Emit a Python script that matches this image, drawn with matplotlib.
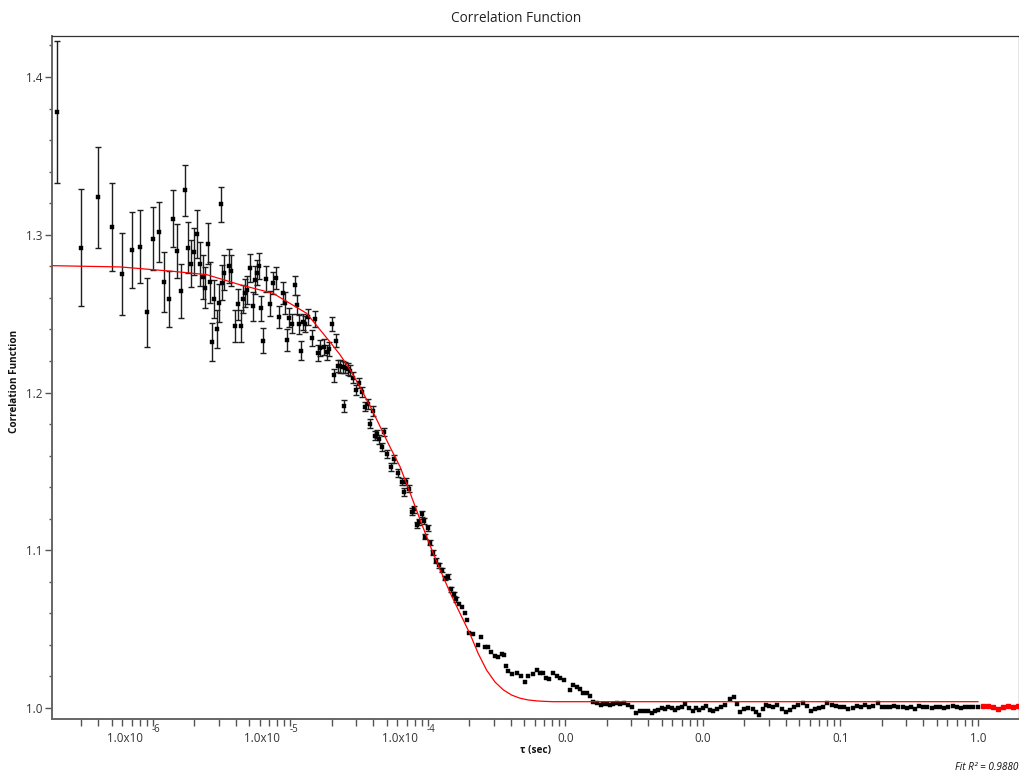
import matplotlib
matplotlib.use('Agg')
import matplotlib.pyplot as plt
from matplotlib.ticker import MultipleLocator, NullFormatter, FixedLocator

# ---------------- data ----------------
tau = [
    2.0e-7, 3.0e-7, 4.0e-7, 5.0e-7, 6.0e-7, 7.0e-7, 8.0e-7, 9.0e-7, 1.0e-6, 1.1e-6,
    1.2e-6, 1.3e-6, 1.4e-6, 1.5e-6, 1.6e-6, 1.7e-6, 1.8e-6, 1.9e-6, 2.0e-6, 2.1e-6,
    2.2e-6, 2.3e-6, 2.4e-6, 2.5e-6, 2.6e-6, 2.7e-6, 2.8e-6, 2.9e-6, 3.0e-6, 3.1e-6,
    3.2e-6, 3.3e-6,
    3.57e-6, 3.71e-6, 3.95e-6, 4.17e-6, 4.37e-6, 4.51e-6, 4.69e-6, 4.85e-6, 5.08e-6, 5.31e-6,
    5.55e-6, 5.74e-6, 5.90e-6, 6.10e-6, 6.31e-6, 6.67e-6, 7.09e-6, 7.50e-6, 7.84e-6, 8.25e-6,
    8.78e-6, 9.12e-6, 9.48e-6, 9.80e-6,
    1.03e-5, 1.07e-5, 1.11e-5, 1.15e-5, 1.19e-5, 1.24e-5, 1.27e-5, 1.35e-5, 1.43e-5, 1.50e-5,
    1.58e-5, 1.64e-5, 1.74e-5, 1.83e-5, 1.91e-5, 1.99e-5, 2.06e-5, 2.14e-5, 2.22e-5, 2.31e-5,
    2.41e-5, 2.46e-5, 2.51e-5, 2.62e-5, 2.73e-5, 2.85e-5, 3.01e-5, 3.15e-5, 3.30e-5, 3.48e-5,
    3.64e-5, 3.79e-5, 4.00e-5, 4.14e-5, 4.28e-5, 4.42e-5, 4.61e-5, 4.81e-5, 5.01e-5, 5.38e-5,
    5.69e-5, 6.08e-5, 6.44e-5, 6.72e-5, 6.92e-5, 7.31e-5, 7.61e-5, 7.91e-5, 8.32e-5, 8.60e-5,
    9.00e-5, 9.35e-5, 9.59e-5, 9.92e-5,
    1.03e-4, 1.08e-4, 1.15e-4, 1.20e-4, 1.26e-4, 1.33e-4, 1.40e-4, 1.46e-4, 1.55e-4, 1.61e-4,
    1.68e-4, 1.77e-4, 1.86e-4, 1.91e-4, 2.00e-4, 2.11e-4, 2.30e-4, 2.43e-4, 2.60e-4, 2.72e-4,
    2.87e-4, 3.07e-4, 3.25e-4, 3.44e-4, 3.57e-4, 3.69e-4, 3.84e-4, 4.06e-4, 4.42e-4, 4.75e-4,
    5.08e-4, 5.36e-4, 5.83e-4, 6.17e-4, 6.53e-4, 6.83e-4, 7.21e-4, 7.62e-4, 8.07e-4, 8.63e-4,
    9.12e-4, 9.75e-4,
    1.07e-3, 1.13e-3, 1.21e-3, 1.28e-3, 1.35e-3, 1.43e-3, 1.51e-3, 1.59e-3, 1.70e-3, 1.80e-3,
    1.88e-3, 1.99e-3, 2.11e-3, 2.23e-3, 2.36e-3, 2.49e-3, 2.66e-3, 2.86e-3, 3.03e-3, 3.26e-3,
    3.48e-3, 3.72e-3, 4.00e-3, 4.24e-3, 4.48e-3, 4.73e-3, 5.01e-3, 5.29e-3, 5.59e-3, 5.92e-3,
    6.26e-3, 6.61e-3, 7.00e-3, 7.44e-3, 7.88e-3, 8.42e-3, 8.89e-3, 9.40e-3,
    9.95e-3, 1.05e-2, 1.12e-2, 1.19e-2, 1.26e-2, 1.35e-2, 1.45e-2, 1.57e-2, 1.68e-2, 1.76e-2,
    1.86e-2, 1.99e-2, 2.14e-2, 2.30e-2, 2.43e-2, 2.57e-2, 2.72e-2, 2.87e-2, 3.04e-2, 3.25e-2,
    3.47e-2, 3.74e-2, 4.02e-2, 4.29e-2, 4.59e-2, 4.93e-2, 5.31e-2, 5.68e-2, 6.07e-2, 6.53e-2,
    7.01e-2, 7.50e-2, 8.02e-2, 8.63e-2, 9.28e-2, 9.92e-2,
    0.106, 0.114, 0.123, 0.131, 0.140, 0.151, 0.162, 0.173, 0.188, 0.199,
    0.214, 0.229, 0.245, 0.263, 0.283, 0.303, 0.324, 0.348, 0.374, 0.400,
    0.428, 0.461, 0.495, 0.529, 0.566, 0.608, 0.655, 0.700, 0.749, 0.804,
    0.864, 0.924, 1.00,
]

g = [
    1.3778, 1.2918, 1.3237, 1.3051, 1.2751, 1.2905, 1.2924, 1.2508, 1.2975, 1.3019,
    1.2700, 1.2593, 1.3102, 1.2899, 1.2643, 1.3282, 1.2918, 1.2816, 1.2893, 1.3005,
    1.2816, 1.2732, 1.2664, 1.2943, 1.2700, 1.2322, 1.2593, 1.2404, 1.2569, 1.3193,
    1.2696, 1.2759, 1.2802, 1.2772, 1.2422, 1.2559, 1.2422, 1.2591, 1.2629, 1.2650,
    1.2789, 1.2546, 1.2713, 1.2759, 1.2802, 1.2534, 1.2328, 1.2720, 1.2563, 1.2692,
    1.2724, 1.2481, 1.2633, 1.2567, 1.2335, 1.2474, 1.2436, 1.2680, 1.2557, 1.2432,
    1.2265, 1.2447, 1.2434, 1.2481, 1.2347, 1.2464, 1.2248, 1.2280, 1.2290, 1.2254,
    1.2276, 1.2432, 1.2109, 1.2328, 1.2168, 1.2165, 1.2164, 1.1916, 1.2158, 1.2149,
    1.2139, 1.2095, 1.2016, 1.2058, 1.2005, 1.1910, 1.1927, 1.1803, 1.1883, 1.1726,
    1.1737, 1.1703, 1.1655, 1.1752, 1.1610, 1.1530, 1.1578, 1.1488, 1.1435, 1.1369,
    1.1435, 1.1391, 1.1244, 1.1260, 1.1160, 1.1179, 1.1229, 1.1187, 1.1087, 1.1139,
    1.1048, 1.0984, 1.0934, 1.0906, 1.0875, 1.0824, 1.0832, 1.0752, 1.0721, 1.0688,
    1.0661, 1.0638, 1.0600, 1.0558, 1.0477, 1.0469, 1.0399, 1.0448, 1.0389, 1.0385,
    1.0357, 1.0330, 1.0325, 1.0342, 1.0336, 1.0268, 1.0236, 1.0216, 1.0224, 1.0205,
    1.0167, 1.0203, 1.0216, 1.0241, 1.0220, 1.0224, 1.0188, 1.0182, 1.0220, 1.0203,
    1.0188, 1.0177, 1.0114, 1.0146, 1.0135, 1.0119, 1.0097, 1.0093, 1.0076, 1.0040,
    1.0034, 1.0019, 1.0025, 1.0025, 1.0019, 1.0025, 1.0030, 1.0025, 1.0034, 1.0019,
    1.0004, 0.9966, 0.9983, 0.9983, 0.9983, 0.9966, 0.9983, 0.9987, 0.9998, 0.9992,
    1.0004, 0.9998, 0.9987, 0.9998, 1.0006, 1.0027, 0.9998, 0.9981, 0.9998, 0.9985,
    1.0001, 1.0013, 0.9987, 0.9979, 0.9994, 1.0008, 1.0019, 1.0055, 1.0068, 1.0025,
    0.9977, 0.9992, 0.9998, 0.9992, 0.9977, 0.9956, 0.9992, 1.0019, 1.0013, 1.0004,
    1.0019, 0.9992, 0.9977, 0.9987, 1.0004, 1.0019, 1.0030, 1.0013, 0.9983, 0.9992,
    0.9998, 1.0004, 1.0030, 1.0019, 1.0013, 1.0004, 1.0008, 0.9992, 0.9998, 1.0013,
    1.0004, 1.0019, 1.0008, 1.0013, 1.0030, 1.0008, 1.0004, 1.0008, 1.0013, 1.0008,
    1.0004, 0.9998, 1.0008, 0.9992, 1.0013, 1.0004, 1.0008, 0.9998, 1.0008, 1.0004,
    0.9998, 1.0008, 1.0013, 1.0004, 0.9998, 1.0008, 1.0004, 1.0008, 1.0008,
]

# error bars for the early channels (later ones are hidden by the markers)
g_err = [
    0.045, 0.037, 0.032, 0.028, 0.026, 0.024, 0.023, 0.022, 0.020, 0.019,
    0.019, 0.018, 0.018, 0.017, 0.017, 0.016, 0.016, 0.015, 0.015, 0.015,
    0.014, 0.014, 0.013, 0.013, 0.013, 0.012, 0.012, 0.012, 0.012, 0.011,
    0.011, 0.011, 0.011, 0.010, 0.010, 0.010, 0.010, 0.009, 0.009, 0.009,
    0.009, 0.009, 0.009, 0.008, 0.008, 0.008, 0.008, 0.008, 0.008, 0.007,
    0.007, 0.007, 0.007, 0.007, 0.007, 0.006, 0.006, 0.006, 0.006, 0.006,
    0.006, 0.005, 0.005, 0.005, 0.005, 0.005, 0.005, 0.005, 0.005, 0.005,
    0.0045, 0.0044, 0.0042, 0.0040, 0.0040, 0.0040, 0.0038, 0.0038, 0.0036, 0.0036,
    0.0035, 0.0034, 0.0033, 0.0032, 0.0031, 0.0030, 0.0030, 0.0030, 0.0029, 0.0028,
    0.0027, 0.0027, 0.0026, 0.0026, 0.0025, 0.0025, 0.0024, 0.0024, 0.0023, 0.0023,
    0.0022, 0.0022, 0.0021, 0.0021, 0.0020, 0.0020, 0.0019, 0.0019, 0.0018, 0.0018,
    0.0017, 0.0017, 0.0016, 0.0016, 0.0015, 0.0015, 0.0015, 0.0014, 0.0014, 0.0014,
]

# fitted curve
fit_tau = [1.84e-7, 5.76e-7, 1.40e-6, 2.46e-6, 4.29e-6, 7.46e-6, 1.31e-5, 1.94e-5,
           2.29e-5, 2.71e-5, 3.20e-5, 3.79e-5, 4.48e-5, 5.29e-5, 6.26e-5, 7.40e-5,
           8.75e-5, 1.03e-4, 1.22e-4, 1.45e-4, 1.71e-4, 2.02e-4, 2.32e-4, 2.67e-4,
           3.07e-4, 3.53e-4, 4.06e-4, 4.67e-4, 5.36e-4, 6.17e-4, 7.10e-4, 8.15e-4,
           1.33e-2, 1.0]
fit_g = [1.2804, 1.2796, 1.2768, 1.2747, 1.2683, 1.2629, 1.2502, 1.2320,
         1.2240, 1.2145, 1.2035, 1.1915, 1.1785, 1.1655, 1.1530, 1.1365,
         1.1195, 1.1035, 1.0880, 1.0730, 1.0600, 1.0470, 1.0345, 1.0240,
         1.0165, 1.0115, 1.0082, 1.0062, 1.0051, 1.0045, 1.0042, 1.0040,
         1.0040, 1.0040]

# channels beyond the fit range (drawn in red)
tail_tau = [1.09, 1.19, 1.29, 1.40, 1.52, 1.66, 1.80, 1.95]
tail_g = [1.0013, 1.0010, 1.0008, 0.9994, 1.0004, 1.0010, 1.0006, 1.0010]

xtick_vals = [1e-6, 1e-5, 1e-4, 1e-3, 1e-2, 1e-1, 1.0]
xtick_main = ["1.0x10", "1.0x10", "1.0x10", "0.0", "0.0", "0.1", "1.0"]
xtick_sup = ["-6", "-5", "-4", "", "", "", ""]
ytick_vals = [1.0, 1.1, 1.2, 1.3, 1.4]
ytick_labels = ["1.0", "1.1", "1.2", "1.3", "1.4"]
fit_r2 = "0.9880"

# ---------------- figure ----------------
FONT = ['Open Sans', 'DejaVu Sans']
plt.rcParams['font.family'] = FONT

W, H = 1020, 777
fig = plt.figure(figsize=(W / 100, H / 100), dpi=100)
fig.patch.set_facecolor('white')
ax = fig.add_axes([52 / W, 1 - 719 / H, (1019 - 52) / W, (719 - 36) / H])
ax.set_xscale('log')
ax.set_xlim(1.843e-7, 1.988)
ax.set_ylim(0.99303, 1.42599)

n_err = len(g_err)
ax.errorbar(tau[:n_err], g[:n_err], yerr=g_err, fmt='none', ecolor='#1e1e1e',
            elinewidth=1.0, capsize=2.2, capthick=1.0, zorder=2)
ax.plot(tau, g, linestyle='none', marker='s', ms=3.5, mfc='black', mec='black',
        mew=0.3, zorder=3)
ax.plot(fit_tau, fit_g, color='#ff0000', lw=0.9, zorder=4)
ax.plot(tail_tau, tail_g, color='#ff0000', lw=1.6, marker='s', ms=2.4,
        mfc='#ff0000', mec='#ff0000', zorder=4, clip_on=False)

# spines
for side in ['left', 'bottom']:
    ax.spines[side].set_color('#666666')
    ax.spines[side].set_linewidth(1.4)
ax.spines['top'].set_color('#333333')
ax.spines['top'].set_linewidth(0.9)
ax.spines['right'].set_color('#333333')
ax.spines['right'].set_linewidth(0.9)

# y ticks
ax.yaxis.set_major_locator(FixedLocator(ytick_vals))
ax.set_yticklabels(ytick_labels)
ax.yaxis.set_minor_locator(MultipleLocator(0.02))
ax.tick_params(axis='y', which='major', direction='out', length=5, width=1.0,
               color='#555555', labelsize=8.4, labelcolor='#333333', pad=2)
ax.tick_params(axis='y', which='minor', direction='out', length=2.5, width=1.0,
               color='#555555')

# x ticks (all the same length); minor ticks at 2..9 of each decade,
# starting at 3e-7 as in the reference
minor_x = [m * 10.0 ** e for e in range(-7, 1) for m in range(2, 10)
           if m * 10.0 ** e > 2.5e-7]
ax.xaxis.set_major_locator(FixedLocator(xtick_vals))
ax.xaxis.set_minor_locator(FixedLocator(minor_x))
ax.xaxis.set_major_formatter(NullFormatter())
ax.xaxis.set_minor_formatter(NullFormatter())
ax.tick_params(axis='x', which='both', direction='out', length=5, width=1.0,
               color='#555555', labelbottom=False)

for v, main, sup in zip(xtick_vals, xtick_main, xtick_sup):
    if sup:
        ax.annotate(main, xy=(v, 0), xycoords=('data', 'axes fraction'),
                    xytext=(-10, -23), textcoords='offset pixels',
                    ha='right', va='baseline', fontsize=8.4, color='#333333')
        ax.annotate(sup, xy=(v, 0), xycoords=('data', 'axes fraction'),
                    xytext=(-1, -13), textcoords='offset pixels',
                    ha='left', va='baseline', fontsize=7.0, color='#333333')
    else:
        ax.annotate(main, xy=(v, 0), xycoords=('data', 'axes fraction'),
                    xytext=(0, -23), textcoords='offset pixels',
                    ha='center', va='baseline', fontsize=8.4, color='#333333')

# titles and labels
fig.text(516 / W, 1 - 19 / H, "Correlation Function", ha='center', va='center',
         fontsize=9.8, color='#222222')
fig.text(15 / W, 1 - 381 / H, "Correlation Function", ha='center', va='center',
         rotation=90, fontsize=7.2, fontweight='bold', color='#111111')
fig.text(536 / W, 1 - 751 / H, "\u03c4 (sec)", ha='center', va='center',
         fontsize=7.2, fontweight='bold', color='#111111')
fig.text(1018 / W, 1 - 768 / H, "Fit R\u00b2 = " + fit_r2, ha='right', va='center',
         fontsize=7.2, style='italic', color='#111111')

fig.savefig('out.png', dpi=100, facecolor='white')
